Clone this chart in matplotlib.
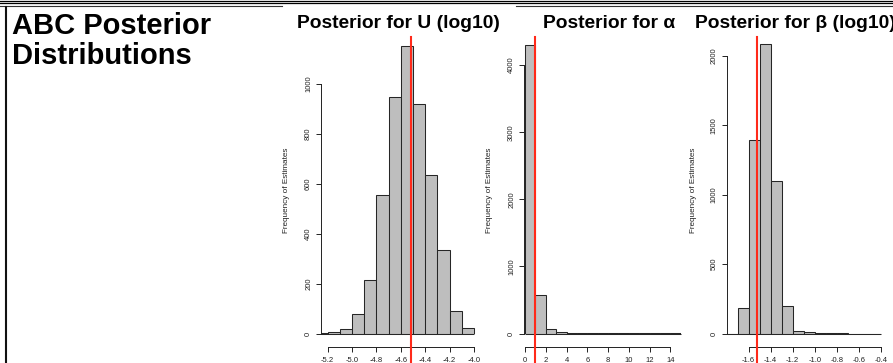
import matplotlib
matplotlib.use("Agg")
import matplotlib.pyplot as plt
from matplotlib.lines import Line2D

plt.rcParams['font.family'] = ['Liberation Sans', 'DejaVu Sans']

W, H = 893, 363

# ---------------- data ----------------
u_bin_left = [-5.3, -5.2, -5.1, -5.0, -4.9, -4.8, -4.7, -4.6, -4.5, -4.4, -4.3, -4.2, -4.1]
u_counts = [1, 7, 20, 80, 216, 555, 948, 1152, 919, 636, 333, 91, 24]
u_true = -4.52
u_xticks = [-5.2, -5.0, -4.8, -4.6, -4.4, -4.2, -4.0]
u_xticklabels = ["-5.2", "-5.0", "-4.8", "-4.6", "-4.4", "-4.2", "-4.0"]
u_yticks = [0, 200, 400, 600, 800, 1000]

a_bin_left = [0, 1, 2, 3, 4, 5, 6, 7, 8, 9, 10, 11, 12, 13, 14]
a_counts = [4300, 570, 62, 18, 8, 5, 7, 7, 3, 2, 2, 1, 1, 1, 1]
a_true = 1.0
a_xticks = [0, 2, 4, 6, 8, 10, 12, 14]
a_xticklabels = ["0", "2", "4", "6", "8", "10", "12", "14"]
a_yticks = [0, 1000, 2000, 3000, 4000]

b_bin_left = [-1.8, -1.7, -1.6, -1.5, -1.4, -1.3, -1.2, -1.1, -1.0, -0.9, -0.8, -0.7, -0.6, -0.5]
b_counts = [0, 185, 1397, 2084, 1099, 195, 20, 12, 2, 1, 1, 0, 0, 0]
b_true = -1.52
b_xticks = [-1.6, -1.4, -1.2, -1.0, -0.8, -0.6, -0.4]
b_xticklabels = ["-1.6", "-1.4", "-1.2", "-1.0", "-0.8", "-0.6", "-0.4"]
b_yticks = [0, 500, 1000, 1500, 2000]

titles = ["Posterior for U (log10)", "Posterior for \u03b1", "Posterior for \u03b2 (log10)"]
ylabel = "Frequency of Estimates"
main_title = ["ABC Posterior", "Distributions"]

# ---------------- figure ----------------
fig = plt.figure(figsize=(W / 100, H / 100), dpi=100)
fig.patch.set_facecolor("white")


def px_axes(left, right, top, bottom):
    return fig.add_axes([left / W, 1 - bottom / H, (right - left) / W, (bottom - top) / H])


TOP, BASE = 37.0, 333.5
panels = [
    dict(left=321, right=476, xlim=(-5.255, -3.984), ylim=(0, 1186), bins=u_bin_left, counts=u_counts,
         width=0.1, true=u_true, xt=u_xticks, xtl=u_xticklabels, yt=u_yticks, ylab_x=286,
         title=titles[0], title_x=398.5, title_ha="center"),
    dict(left=524, right=681, xlim=(-0.1, 15.03), ylim=(0, 4420), bins=a_bin_left, counts=a_counts,
         width=1.0, true=a_true, xt=a_xticks, xtl=a_xticklabels, yt=a_yticks, ylab_x=489.5,
         title=titles[1], title_x=609, title_ha="center"),
    dict(left=726.7, right=881, xlim=(-1.8, -0.397), ylim=(0, 2138), bins=b_bin_left, counts=b_counts,
         width=0.1, true=b_true, xt=b_xticks, xtl=b_xticklabels, yt=b_yticks, ylab_x=693.5,
         title=titles[2], title_x=695, title_ha="left"),
]

tick_fs = 5.5
for p in panels:
    ax = px_axes(p["left"], p["right"], TOP, BASE)
    ax.set_facecolor("none")
    ax.bar(p["bins"], p["counts"], width=p["width"], align="edge", color="#BEBEBE",
           edgecolor="#262626", linewidth=0.75, zorder=2)
    # zero-count bins still show as a flat line along the baseline
    x_start = max(p["bins"][0], p["xlim"][0])
    ax.hlines(0, x_start, p["bins"][-1] + p["width"], color="#262626", linewidth=0.75,
              zorder=2, clip_on=False)
    ax.set_xlim(*p["xlim"])
    ax.set_ylim(*p["ylim"])
    for s in ("top", "right"):
        ax.spines[s].set_visible(False)
    ax.spines["left"].set_bounds(p["yt"][0], p["yt"][-1])
    ax.spines["bottom"].set_position(("outward", 9.7))
    ax.spines["bottom"].set_bounds(p["xt"][0], p["xt"][-1])
    for s in ("left", "bottom"):
        ax.spines[s].set_linewidth(0.7)
        ax.spines[s].set_color("#222222")
    ax.set_xticks(p["xt"])
    ax.set_xticklabels(p["xtl"])
    ax.set_yticks(p["yt"])
    ax.set_yticklabels([str(v) for v in p["yt"]], rotation=90, va="center")
    ax.tick_params(axis="both", length=3.4, width=0.7, color="#222222", labelsize=tick_fs,
                   labelcolor="#222222")
    ax.tick_params(axis="x", pad=3.6)
    ax.tick_params(axis="y", pad=3.0)
    # true value line
    ext = (H + 5 - BASE) / (BASE - TOP)
    ax.axvline(p["true"], ymin=-ext, ymax=1, color="#FF2A1A", linewidth=1.5, clip_on=False, zorder=3)
    # ylabel
    fig.text(p["ylab_x"] / W, 1 - 190 / H, ylabel, rotation=90, ha="center", va="center",
             fontsize=5.9, color="#222222")
    # panel title
    fig.text(p["title_x"] / W, 1 - 28.5 / H, p["title"], ha=p["title_ha"], va="baseline",
             fontsize=13.9, fontweight="bold", color="black")

# main title
fig.text(11.5 / W, 1 - 33.5 / H, main_title[0], ha="left", va="baseline", fontsize=21,
         fontweight="bold", color="black")
fig.text(11.5 / W, 1 - 64.5 / H, main_title[1], ha="left", va="baseline", fontsize=21,
         fontweight="bold", color="black")

# slide borders
def hline(y, x0, x1, lw, color):
    fig.add_artist(Line2D([x0 / W, x1 / W], [1 - y / H, 1 - y / H], transform=fig.transFigure,
                          linewidth=lw, color=color))

def vline(x, y0, y1, lw, color):
    fig.add_artist(Line2D([x / W, x / W], [1 - y0 / H, 1 - y1 / H], transform=fig.transFigure,
                          linewidth=lw, color=color))

hline(0.6, 0, W, 0.9, "black")
hline(3.0, 0, W, 0.9, "black")
hline(5.6, 0, 282, 0.8, "#333333")
hline(5.6, 516, W, 0.8, "#333333")
vline(6.0, 7, H, 1.5, "#111111")

fig.savefig("out.png", dpi=100, facecolor="white")
